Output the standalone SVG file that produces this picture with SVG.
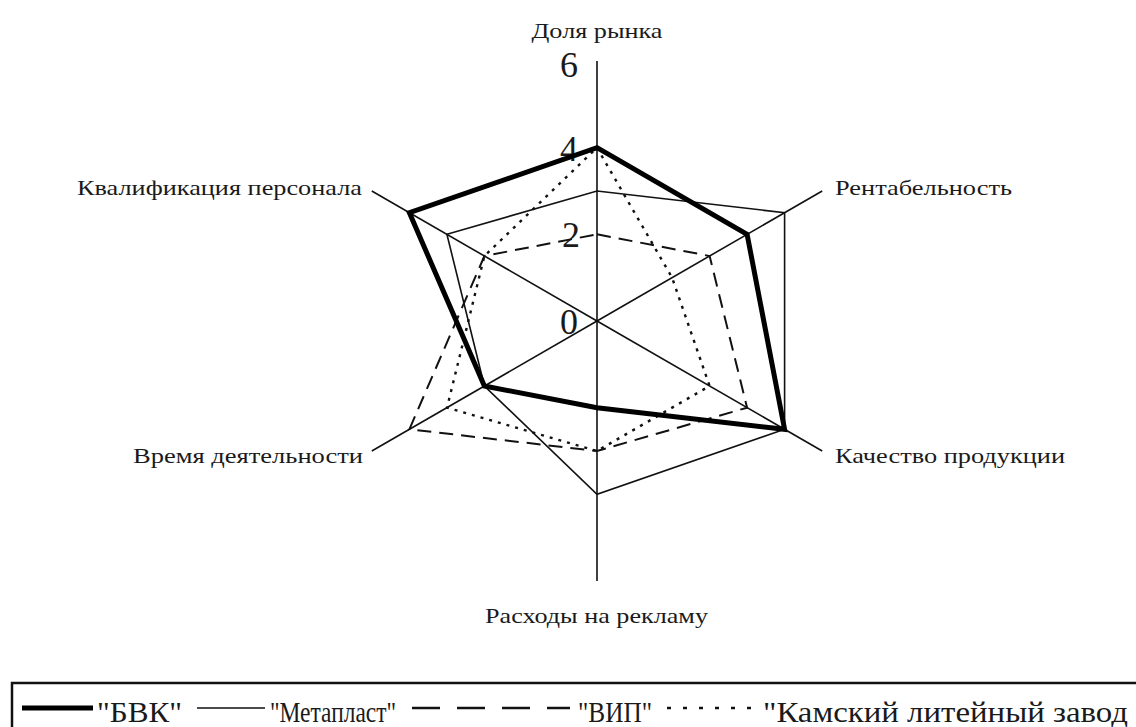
<svg xmlns="http://www.w3.org/2000/svg" width="1136" height="727" viewBox="0 0 1136 727">
<style>
  text { font-family: "Liberation Serif", "Noto Serif", "DejaVu Serif", FreeSerif, Tinos, "Times New Roman", Times, serif; fill: #1a1a1a; }
  .lbl { font-size: 22px; }
  .num { font-size: 36px; }
  .leg { font-size: 30px; }
  .axis { stroke: #111; stroke-width: 1.6; fill: none; }
  .bvk { stroke: #000; stroke-width: 5; fill: none; stroke-linejoin: miter; }
  .met { stroke: #111; stroke-width: 1.6; fill: none; }
  .vip { stroke: #111; stroke-width: 2; fill: none; stroke-dasharray: 14 8; }
  .kam { stroke: #111; stroke-width: 2.4; fill: none; stroke-dasharray: 3 6; }
</style>
<rect width="1136" height="727" fill="#fff"/>
<g id="connectors">
  <line class="axis" x1="597" y1="321" x2="597" y2="61"/>
  <line class="axis" x1="597" y1="321" x2="822.2" y2="191"/>
  <line class="axis" x1="597" y1="321" x2="822.2" y2="451"/>
  <line class="axis" x1="597" y1="321" x2="597" y2="581"/>
  <line class="axis" x1="597" y1="321" x2="371.8" y2="451"/>
  <line class="axis" x1="597" y1="321" x2="371.8" y2="191"/>
</g>
<g id="scale">
  <text class="num" x="578" y="77" text-anchor="end">6</text>
  <text class="num" x="578" y="161" text-anchor="end">4</text>
  <text class="num" x="580" y="247" text-anchor="end">2</text>
  <text class="num" x="578" y="334" text-anchor="end">0</text>
</g>
<g id="series-metaplast">
  <polygon class="met" points="597,191 784.6,212.7 784.6,429.3 597,494.3 484.4,386 446.9,234.3"/>
</g>
<g id="series-vip">
  <polygon class="vip" points="597,234.3 709.6,256 747.1,407.7 597,451 409.4,429.3 484.4,256"/>
</g>
<g id="series-kamsky">
  <polygon class="kam" points="597,147.7 672.1,277.7 709.6,386 597,451 447,407.7 484.4,256"/>
</g>
<g id="series-bvk">
  <polygon class="bvk" points="597,147.7 747.1,234.3 784.6,429.3 597,407.7 484.4,386 409.4,212.7"/>
</g>
<g id="label-dolya">
  <text class="lbl" x="597" y="38" text-anchor="middle" textLength="131" lengthAdjust="spacingAndGlyphs">Доля рынка</text>
</g>
<g id="label-rent">
  <text class="lbl" x="835" y="195" textLength="177" lengthAdjust="spacingAndGlyphs">Рентабельность</text>
</g>
<g id="label-kach">
  <text class="lbl" x="835" y="463" textLength="230" lengthAdjust="spacingAndGlyphs">Качество продукции</text>
</g>
<g id="label-rash">
  <text class="lbl" x="485" y="623" textLength="223" lengthAdjust="spacingAndGlyphs">Расходы на рекламу</text>
</g>
<g id="label-vrem">
  <text class="lbl" x="133" y="463" textLength="230" lengthAdjust="spacingAndGlyphs">Время деятельности</text>
</g>
<g id="label-kval">
  <text class="lbl" x="77" y="195" textLength="285" lengthAdjust="spacingAndGlyphs">Квалификация персонала</text>
</g>
<g id="legend">
  <rect x="12" y="683" width="1140" height="60" fill="none" stroke="#111" stroke-width="2.5"/>
  <line x1="22" y1="708" x2="93" y2="708" stroke="#000" stroke-width="5"/>
  <text class="leg" x="97" y="722" textLength="85" lengthAdjust="spacingAndGlyphs">"БВК"</text>
  <line x1="197" y1="708" x2="265" y2="708" stroke="#111" stroke-width="1.6"/>
  <text class="leg" x="270" y="722" textLength="126" lengthAdjust="spacingAndGlyphs">"Метапласт"</text>
  <line x1="412" y1="708" x2="570" y2="708" stroke="#111" stroke-width="2.5" stroke-dasharray="28 17"/>
  <text class="leg" x="578" y="722" textLength="74" lengthAdjust="spacingAndGlyphs">"ВИП"</text>
  <line x1="667" y1="708" x2="762" y2="708" stroke="#111" stroke-width="2.5" stroke-dasharray="4 12"/>
  <text class="leg" x="763" y="722" textLength="365" lengthAdjust="spacingAndGlyphs">"Камский литейный завод</text>
</g>
</svg>
